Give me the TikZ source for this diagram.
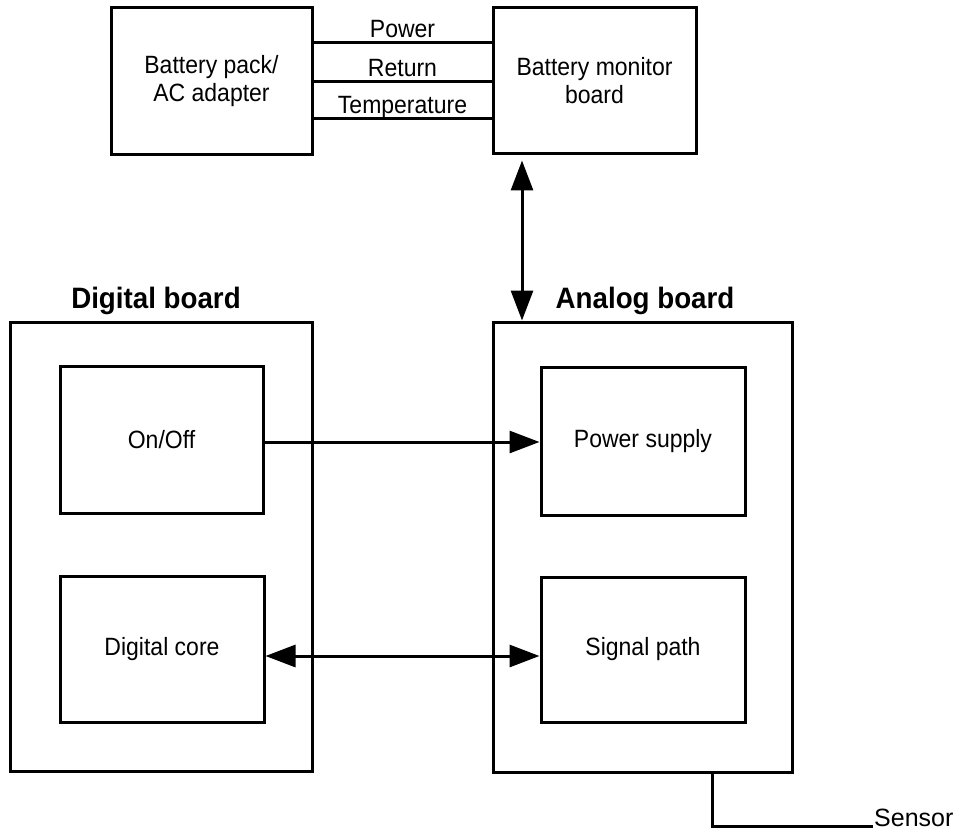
\documentclass[tikz,border=0pt]{standalone}
\usepackage{fontspec}
\setmainfont{Liberation Sans}[FakeStretch=0.92]
\newfontfamily\ttlfont{Liberation Sans}[FakeStretch=0.94]
\newfontfamily\sensfont{Liberation Sans}
\usetikzlibrary{arrows.meta}
\begin{document}
\begin{tikzpicture}[x=1pt,y=-1pt,
  lbl/.style={font=\fontsize{25}{28}\selectfont},
  box/.style={draw, line width=3pt, align=center, lbl, inner sep=0pt},
  ttl/.style={font=\ttlfont\fontsize{29.5}{32}\selectfont\bfseries, anchor=base, inner sep=0pt},
  conn/.style={line width=3pt},
  tipr/.style={conn, -{Triangle[length=30pt,width=22pt]}},
  tipb/.style={conn, {Triangle[length=30pt,width=22pt]}-{Triangle[length=30pt,width=22pt]}},
  wire/.style={lbl, anchor=base, inner sep=0pt, yshift=5pt}]
\useasboundingbox (0,0) rectangle (960,834);

% top boxes
\node[box, minimum width=201pt, minimum height=147pt] (bp) at (211.5,81.5) {Battery pack/\\AC adapter};
\node[box, minimum width=203pt, minimum height=146pt] (bm) at (594.5,81) {Battery monitor\\board};

% boards
\node[box, minimum width=302pt, minimum height=449pt] (dig) at (161,546.5) {};
\node[box, minimum width=299pt, minimum height=450pt] (ana) at (642.5,547) {};
\node[ttl] (digt) at (156,308) {Digital board};
\node[ttl] (anat) at (645,308) {Analog board};

% inner boxes
\node[box, minimum width=203pt, minimum height=147pt] (onoff) at (161.5,439.5) {On/Off};
\node[box, minimum width=204pt, minimum height=148pt] (ps) at (643,441) {Power supply};
\node[box, minimum width=204pt, minimum height=146pt] (dc) at (162,649) {Digital core};
\node[box, minimum width=204pt, minimum height=145pt] (sp) at (643,649.5) {Signal path};

% level coordinates
\coordinate (yP) at (0,43);
\coordinate (yR) at (0,82);
\coordinate (yT) at (0,119);
\coordinate (xA) at (522,0);
\coordinate (yOn) at (0,442);
\coordinate (yDc) at (0,656);
\coordinate (xS) at (712,0);

% wires between battery pack and monitor
\draw[conn] (bp.east |- yP) -- (bm.west |- yP) node[midway, wire] (lp) {Power};
\draw[conn] (bp.east |- yR) -- (bm.west |- yR) node[midway, wire] (lr) {Return};
\draw[conn] (bp.east |- yT) -- (bm.west |- yT) node[midway, wire] (lt) {Temperature};

% monitor <-> analog board
\draw[tipb, shorten <=5pt] (bm.south -| xA) -- (ana.north -| xA);

% on/off -> power supply
\draw[tipr] (onoff.east |- yOn) -- (ps.west |- yOn);

% digital core <-> signal path
\draw[tipb] (dc.east |- yDc) -- (sp.west |- yDc);

% sensor
\node[font=\sensfont\fontsize{25}{28}\selectfont, anchor=base west, inner sep=0pt] (sens) at (874,826) {Sensor};
\draw[conn] (ana.south -| xS) |- ([xshift=-1pt]sens.base west);
\end{tikzpicture}
\end{document}
